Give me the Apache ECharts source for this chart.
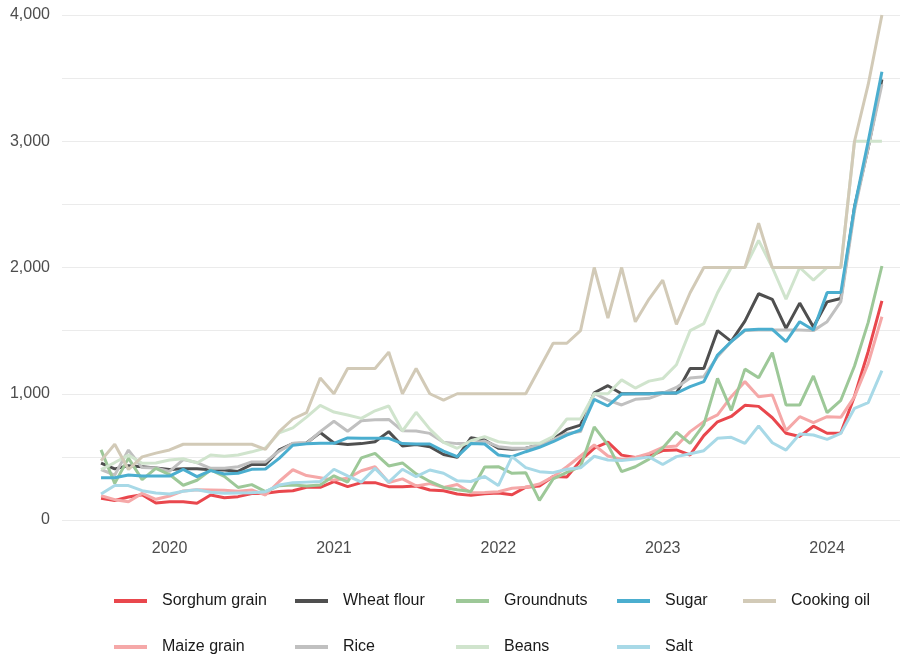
<!DOCTYPE html>
<html lang="en">
<head>
<meta charset="utf-8">
<title>Food prices</title>
<script src="https://cdn.jsdelivr.net/npm/echarts@6/dist/echarts.min.js"></script>
<style>
    html, body { margin: 0; padding: 0; background: #fff; }
    #chart { width: 900px; height: 658px; }
</style>
</head>
<body>
<div id="chart"></div>
<script>
    // monthly observations, Aug 2019 - May 2024
    let months = [
        '2019-08', '2019-09', '2019-10', '2019-11', '2019-12',
        '2020-01', '2020-02', '2020-03', '2020-04', '2020-05', '2020-06', '2020-07', '2020-08', '2020-09', '2020-10', '2020-11', '2020-12',
        '2021-01', '2021-02', '2021-03', '2021-04', '2021-05', '2021-06', '2021-07', '2021-08', '2021-09', '2021-10', '2021-11', '2021-12',
        '2022-01', '2022-02', '2022-03', '2022-04', '2022-05', '2022-06', '2022-07', '2022-08', '2022-09', '2022-10', '2022-11', '2022-12',
        '2023-01', '2023-02', '2023-03', '2023-04', '2023-05', '2023-06', '2023-07', '2023-08', '2023-09', '2023-10', '2023-11', '2023-12',
        '2024-01', '2024-02', '2024-03', '2024-04', '2024-05'
    ];
    let yearTicks = ['2020-01', '2021-01', '2022-01', '2023-01', '2024-01'];

    let sorghum = [172, 155, 182, 200, 135, 145, 145, 132, 198, 176, 185, 210, 211, 225, 232, 259, 259, 304, 264, 296, 296, 264, 264, 269, 238, 232, 206, 195, 208,
        213, 200, 260, 270, 345, 340, 470, 570, 617, 514, 495, 505, 550, 555, 515, 668, 778, 820, 908, 900, 810, 687, 662, 743, 687, 690, 980, 1335, 1735];
    let maize = [192, 161, 145, 211, 164, 190, 230, 240, 238, 235, 228, 238, 198, 305, 398, 352, 334, 316, 330, 390, 422, 297, 326, 270, 288, 258, 281, 215, 218,
        224, 251, 259, 285, 343, 422, 507, 594, 507, 480, 496, 528, 576, 586, 700, 779, 832, 977, 1096, 977, 990, 708, 818, 771, 818, 813, 977, 1241, 1610];
    let wheat = [450, 405, 430, 422, 412, 400, 405, 405, 398, 396, 385, 440, 440, 555, 605, 610, 693, 610, 598, 605, 620, 700, 586, 598, 581, 519, 496, 651, 634,
        568, 560, 568, 594, 639, 718, 752, 1008, 1064, 1000, 1000, 1000, 1005, 1005, 1200, 1200, 1500, 1415, 1575, 1792, 1748, 1518, 1718, 1528, 1728, 1755, 2480, 2950, 3490];
    let rice = [400, 356, 554, 415, 412, 385, 478, 455, 409, 409, 422, 460, 460, 545, 607, 607, 700, 782, 703, 786, 795, 797, 706, 705, 686, 615, 605, 605, 625,
        581, 568, 568, 594, 634, 686, 700, 1003, 950, 911, 956, 964, 1003, 1050, 1125, 1135, 1294, 1413, 1500, 1505, 1505, 1505, 1505, 1500, 1571, 1729, 2450, 2950, 3450];
    let groundnuts = [555, 290, 490, 320, 409, 360, 275, 315, 396, 345, 258, 280, 225, 272, 277, 269, 277, 350, 300, 492, 528, 428, 452, 365, 305, 258, 240, 225, 420,
        422, 370, 375, 155, 325, 378, 422, 737, 595, 383, 422, 482, 570, 695, 607, 755, 1122, 868, 1195, 1126, 1325, 911, 911, 1141, 850, 948, 1220, 1565, 2012];
    let beans = [400, 455, 515, 450, 452, 475, 485, 452, 515, 505, 515, 540, 570, 690, 730, 815, 908, 855, 832, 805, 865, 903, 705, 853, 720, 615, 568, 628, 660,
        620, 607, 607, 607, 660, 800, 800, 1000, 1000, 1110, 1045, 1100, 1120, 1230, 1500, 1555, 1800, 2000, 2000, 2215, 2000, 1750, 2000, 1900, 2000, 2000, 3000, 3000, 3000];
    let sugar = [335, 335, 356, 348, 348, 348, 401, 343, 391, 364, 370, 401, 404, 488, 592, 603, 607, 607, 650, 647, 647, 647, 605, 602, 602, 545, 502, 605, 602,
        515, 502, 541, 576, 620, 673, 713, 956, 903, 998, 1000, 1000, 1005, 1005, 1056, 1096, 1307, 1413, 1505, 1510, 1510, 1413, 1571, 1505, 1801, 1801, 2480, 3000, 3550];
    let salt = [206, 273, 273, 232, 214, 206, 228, 240, 220, 211, 214, 216, 224, 277, 296, 300, 304, 402, 350, 300, 409, 300, 402, 343, 396, 370, 310, 305, 345,
        273, 502, 415, 383, 375, 402, 413, 505, 475, 472, 484, 500, 440, 502, 525, 549, 647, 655, 607, 745, 612, 554, 681, 673, 639, 686, 885, 929, 1183];
    let cookingOil = [470, 600, 400, 500, 530, 555, 600, 600, 600, 600, 600, 600, 560, 700, 800, 850, 1125, 1000, 1200, 1200, 1200, 1330, 1000, 1200, 1000, 950, 1000, 1000, 1000,
        1000, 1000, 1000, 1200, 1400, 1400, 1500, 2000, 1600, 2000, 1570, 1750, 1900, 1550, 1800, 2000, 2000, 2000, 2000, 2350, 2000, 2000, 2000, 2000, 2000, 2000, 3000, 3450, 4000];

    // drawing order follows the legend columns
    let lines = [
        {name: 'Sorghum grain', data: sorghum, color: '#E9474D'},
        {name: 'Maize grain', data: maize, color: '#F5A8A8'},
        {name: 'Wheat flour', data: wheat, color: '#4F4F4F'},
        {name: 'Rice', data: rice, color: '#C0C0C0'},
        {name: 'Groundnuts', data: groundnuts, color: '#9DC898'},
        {name: 'Beans', data: beans, color: '#D0E4CD'},
        {name: 'Sugar', data: sugar, color: '#4BAECF'},
        {name: 'Salt', data: salt, color: '#A8D9E7'},
        {name: 'Cooking oil', data: cookingOil, color: '#D2CAB7'}
    ];

    // no narrow face installed, Liberation Sans is the closest fit
    let font = '"Liberation Sans", Arial, sans-serif';
    let textColor = '#4D4D4D';

    // months counted from Jan 2020
    function monthIndex(ym) {
        let p = ym.split('-');
        return (+p[0] - 2020) * 12 + (+p[1] - 1);
    }

    // legend columns (ggplot style, filled column by column)
    let legendColumns = [
        {items: ['Sorghum grain', 'Maize grain'], left: 114},
        {items: ['Wheat flour', 'Rice'], left: 295},
        {items: ['Groundnuts', 'Beans'], left: 456},
        {items: ['Sugar', 'Salt'], left: 617},
        {items: ['Cooking oil'], left: 743}
    ];

    let chart = echarts.init(document.getElementById('chart'));

    let option = {
        animation: false,
        backgroundColor: '#fff',
        grid: {left: 62, right: 0, top: 15, bottom: 138, containLabel: false},
        legend: legendColumns.map(function (col) {
            return {
                data: col.items,
                orient: 'vertical',
                left: col.left,
                top: 590,
                padding: 0,
                itemGap: 24,
                itemWidth: 33,
                itemHeight: 4,
                icon: 'rect',
                selectedMode: false,
                textStyle: {
                    fontFamily: font,
                    fontSize: 16,
                    lineHeight: 22,
                    color: '#1a1a1a',
                    padding: [0, 0, 0, 10]
                }
            };
        }),
        xAxis: {
            type: 'value',
            min: -7.85,
            max: 53.32,
            axisLine: {show: false},
            axisTick: {show: false},
            splitLine: {show: false},
            axisLabel: {
                customValues: yearTicks.map(monthIndex),
                formatter: function (v) {
                    return String(2020 + Math.round(v / 12));
                },
                margin: 21,
                fontFamily: font,
                fontSize: 16,
                color: textColor
            }
        },
        yAxis: {
            type: 'value',
            min: 0,
            max: 4000,
            interval: 500,
            axisLine: {show: false},
            axisTick: {show: false},
            splitLine: {lineStyle: {color: '#EBEBEB', width: 1.2}},
            axisLabel: {
                margin: 12,
                fontFamily: font,
                fontSize: 16,
                color: textColor,
                formatter: function (v) {
                    return v % 1000 === 0 ? v.toLocaleString('en-US') : '';
                }
            }
        },
        series: lines.map(function (s) {
            return {
                name: s.name,
                type: 'line',
                showSymbol: false,
                symbol: 'none',
                color: s.color,
                lineStyle: {width: 3, color: s.color},
                data: s.data.map(function (v, i) {
                    return [monthIndex(months[i]), v];
                })
            };
        })
    };

    chart.setOption(option);
</script>
</body>
</html>
